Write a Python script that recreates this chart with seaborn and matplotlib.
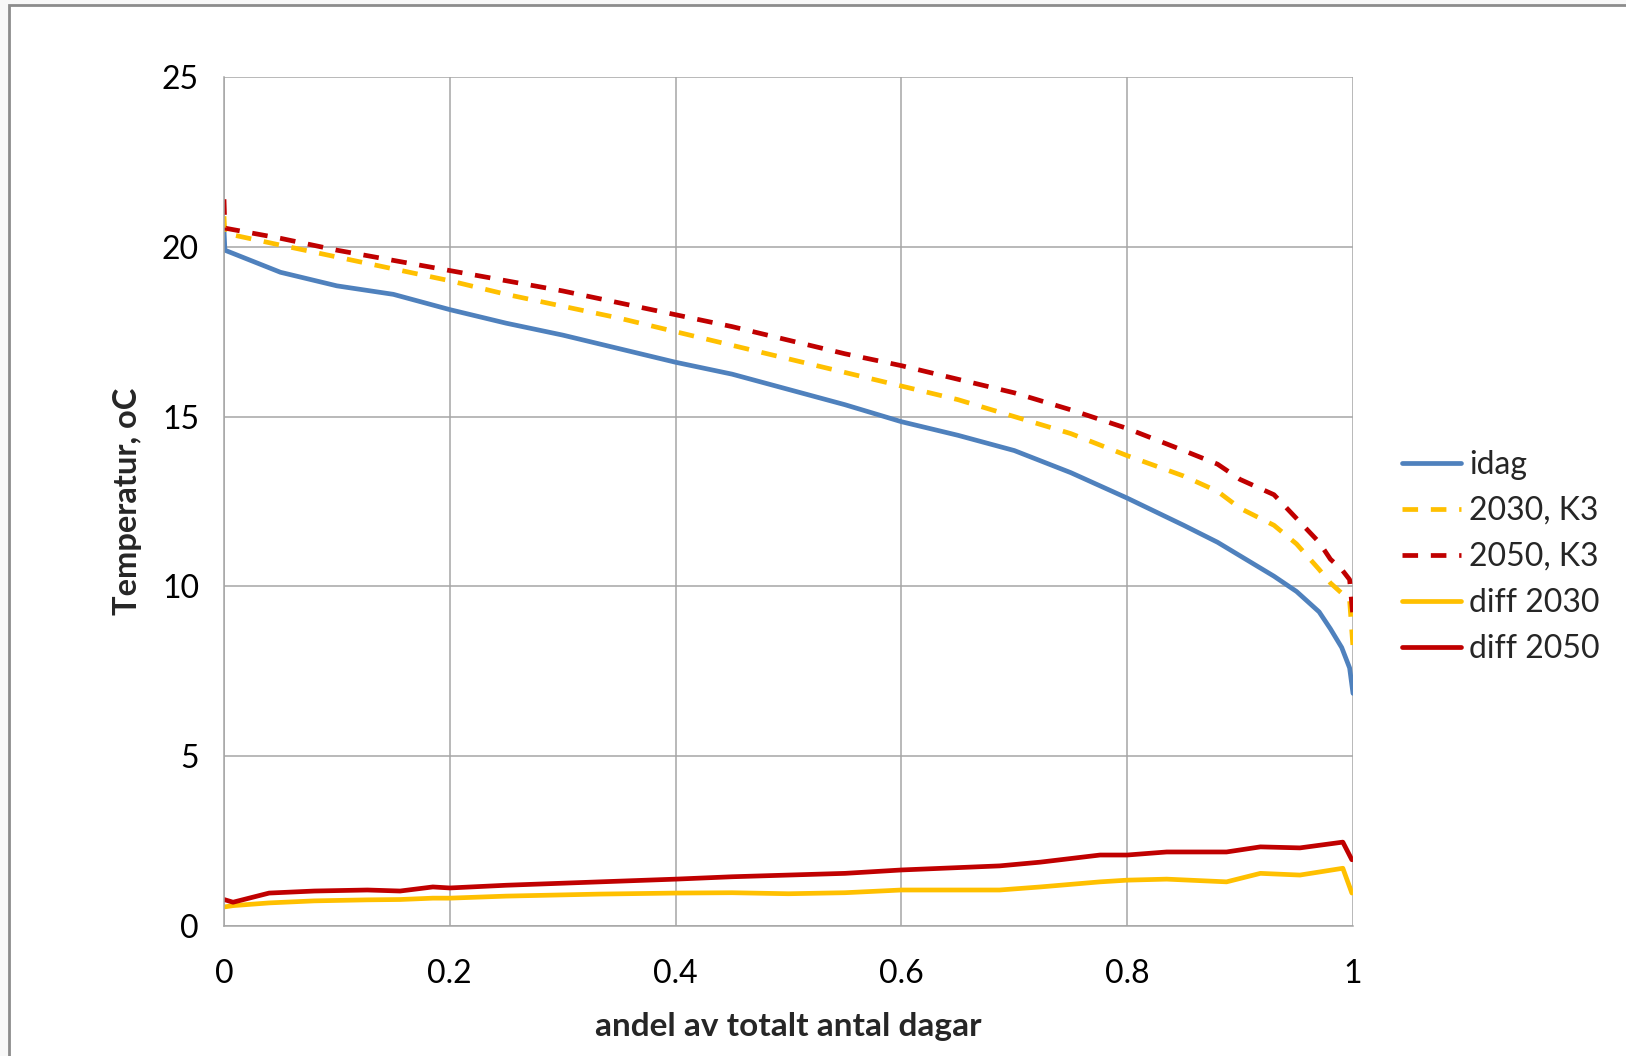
import matplotlib
matplotlib.use("Agg")
import matplotlib.pyplot as plt
import seaborn as sns
import pandas as pd
from matplotlib.patches import Rectangle
from matplotlib.lines import Line2D

# ---- data ----
x_main = [0.0, 0.0008, 0.05, 0.10, 0.15, 0.20, 0.25, 0.30, 0.35, 0.40, 0.45, 0.50,
          0.55, 0.60, 0.65, 0.70, 0.75, 0.80, 0.85, 0.88, 0.90, 0.93, 0.95, 0.97,
          0.98, 0.99, 0.997, 1.0]
idag = [20.5, 19.9, 19.25, 18.85, 18.6, 18.15, 17.75, 17.4, 17.0, 16.6, 16.25, 15.8,
        15.35, 14.85, 14.45, 14.0, 13.35, 12.6, 11.8, 11.3, 10.9, 10.3, 9.85, 9.25,
        8.75, 8.2, 7.6, 6.85]
k3_2030 = [20.9, 20.4, 20.05, 19.7, 19.35, 19.0, 18.6, 18.25, 17.9, 17.5, 17.1, 16.7,
           16.3, 15.9, 15.5, 15.0, 14.5, 13.85, 13.25, 12.8, 12.3, 11.8, 11.25, 10.5,
           10.1, 9.8, 9.6, 8.2]
k3_2050 = [21.4, 20.55, 20.25, 19.9, 19.6, 19.3, 19.0, 18.7, 18.35, 18.0, 17.65, 17.25,
           16.85, 16.5, 16.1, 15.7, 15.2, 14.65, 14.0, 13.6, 13.15, 12.7, 12.0, 11.3,
           10.8, 10.5, 10.2, 9.1]

x_diff = [0.0, 0.008, 0.04, 0.08, 0.127, 0.156, 0.185, 0.20, 0.25, 0.333, 0.40, 0.45,
          0.50, 0.55, 0.60, 0.687, 0.723, 0.776, 0.80, 0.835, 0.888, 0.918, 0.953,
          0.991, 0.999]
diff_2030 = [0.56, 0.6, 0.68, 0.74, 0.77, 0.78, 0.82, 0.82, 0.88, 0.94, 0.97, 0.98,
             0.95, 0.98, 1.06, 1.06, 1.15, 1.3, 1.35, 1.38, 1.3, 1.55, 1.5, 1.7, 0.97]
diff_2050 = [0.78, 0.7, 0.97, 1.03, 1.06, 1.03, 1.15, 1.12, 1.2, 1.3, 1.38, 1.45,
             1.5, 1.55, 1.65, 1.77, 1.88, 2.09, 2.09, 2.18, 2.18, 2.33, 2.3, 2.47, 1.95]

labels = ["idag", "2030, K3", "2050, K3", "diff 2030", "diff 2050"]
x_ticks = [0, 0.2, 0.4, 0.6, 0.8, 1]
x_tick_labels = ["0", "0.2", "0.4", "0.6", "0.8", "1"]
y_ticks = [0, 5, 10, 15, 20, 25]

BLUE = "#4F81BD"
YELLOW = "#FFC000"
RED = "#C00000"

sns.set_style("white")
plt.rcParams["font.family"] = ["Lato", "DejaVu Sans"]

fig = plt.figure(figsize=(16.26, 10.56), dpi=100)
fig.patch.set_facecolor("#f8f8f8")
# chart frame (white area with grey border)
frame = Rectangle((9 / 1626, -0.05), 1.1, (1056 - 5) / 1056 + 0.05,
                  transform=fig.transFigure, facecolor="white",
                  edgecolor="#8c8c8c", linewidth=2.0, zorder=-10)
fig.patches.append(frame)

ax = fig.add_axes([224 / 1626, (1056 - 926) / 1056, (1353 - 224) / 1626, (926 - 77) / 1056])
ax.set_zorder(1)
ax.set_facecolor("none")

lw = 3.4
dash = (0, (3.3, 2.7))
series = [
    (x_main, idag, BLUE, "-"),
    (x_main, k3_2030, YELLOW, dash),
    (x_main, k3_2050, RED, dash),
    (x_diff, diff_2030, YELLOW, "-"),
    (x_diff, diff_2050, RED, "-"),
]
handles = []
for (xs, ys, c, ls), lab in zip(series, labels):
    df = pd.DataFrame({"x": xs, "y": ys})
    sns.lineplot(data=df, x="x", y="y", ax=ax, color=c, linewidth=lw,
                 linestyle=ls, estimator=None, sort=False, legend=False)
    handles.append(Line2D([0], [0], color=c, linewidth=lw, linestyle=ls))

ax.set_xlim(0, 1)
ax.set_ylim(0, 25)
ax.set_xticks(x_ticks)
ax.set_xticklabels(x_tick_labels)
ax.set_yticks(y_ticks)
ax.grid(True, color="#a6a6a6", linewidth=1.1)
ax.set_axisbelow(True)
for s in ["top", "right"]:
    ax.spines[s].set_visible(False)
for s in ["left", "bottom"]:
    ax.spines[s].set_color("#a6a6a6")
    ax.spines[s].set_linewidth(1.1)
ax.tick_params(axis="both", direction="out", length=9, width=1.1, color="#a6a6a6",
               labelsize=23, labelcolor="black")
ax.tick_params(axis="x", pad=15)
ax.tick_params(axis="y", pad=9)

ax.set_xlabel("andel av totalt antal dagar", fontsize=24, fontweight="bold", labelpad=16)
ax.set_ylabel("Temperatur, oC", fontsize=23.5, fontweight="bold", labelpad=14)

fig.legend(handles, labels, loc="center left",
           bbox_to_anchor=(1402 / 1626, 1 - 557 / 1056),
           bbox_transform=fig.transFigure, frameon=False, fontsize=23,
           handlelength=1.85, handletextpad=0.25, labelspacing=0.5,
           borderpad=0, borderaxespad=0)

fig.savefig("out.png", dpi=100, facecolor=fig.get_facecolor())
